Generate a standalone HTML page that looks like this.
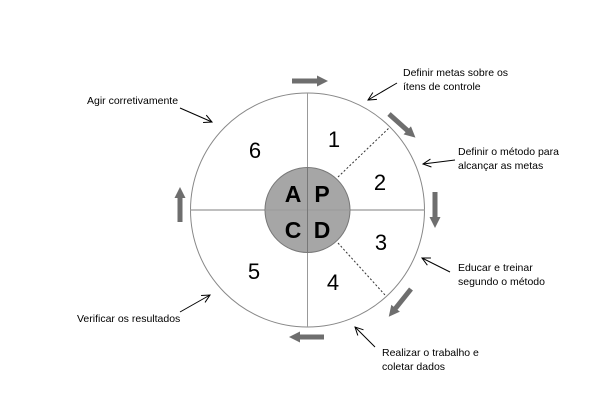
<!DOCTYPE html>
<html><head><meta charset="utf-8"><style>
html,body{margin:0;padding:0;background:#fff;}
svg{display:block;font-family:"Liberation Sans",sans-serif;}
</style></head><body>
<svg width="610" height="416" viewBox="0 0 610 416" xmlns="http://www.w3.org/2000/svg">
<defs>
<marker id="a" markerWidth="10" markerHeight="10" refX="9" refY="5" orient="auto" markerUnits="userSpaceOnUse">
<path d="M1,1 L9,5 L1,9" fill="none" stroke="#000" stroke-width="1"/></marker>
<marker id="g" markerWidth="12" markerHeight="12" refX="1" refY="6" orient="auto" markerUnits="userSpaceOnUse">
<path d="M0,0.5 L11,6 L0,11.5 Z" fill="#6e6e6e"/></marker>
</defs>
<circle cx="307.5" cy="210" r="117" fill="#fff" stroke="#888" stroke-width="1"/>
<line x1="190.5" y1="210" x2="424.5" y2="210" stroke="#aaa" stroke-width="1.5"/>
<line x1="307.5" y1="93" x2="307.5" y2="327" stroke="#999" stroke-width="1"/>
<line x1="338" y1="177" x2="390" y2="127" stroke="#333" stroke-width="1" stroke-dasharray="2,2"/>
<line x1="338" y1="243" x2="385" y2="295" stroke="#333" stroke-width="1" stroke-dasharray="2,2"/>
<circle cx="307.5" cy="210" r="42.5" fill="#a6a6a6" stroke="#777" stroke-width="1"/>
<line x1="265" y1="210" x2="350" y2="210" stroke="#999" stroke-width="1"/>
<line x1="307.5" y1="167.5" x2="307.5" y2="252.5" stroke="#777" stroke-width="1"/>
<g font-size="23" font-weight="bold" fill="#000" text-anchor="middle">
<text x="293" y="202">A</text><text x="322" y="202">P</text>
<text x="293" y="238">C</text><text x="322" y="238">D</text>
</g>
<g font-size="22" fill="#000" text-anchor="middle">
<text x="334" y="147">1</text><text x="380" y="190">2</text>
<text x="381" y="250">3</text><text x="333" y="290">4</text>
<text x="254" y="279">5</text><text x="255" y="158">6</text>
</g>
<g stroke="#6e6e6e" stroke-width="5" marker-end="url(#g)">
<line x1="292" y1="81" x2="318" y2="81"/>
<line x1="389" y1="114" x2="408" y2="131"/>
<line x1="435" y1="192" x2="435" y2="218"/>
<line x1="411" y1="289" x2="395" y2="309"/>
<line x1="324" y1="337" x2="299" y2="337"/>
<line x1="180" y1="222" x2="180" y2="197"/>
</g>
<g stroke="#000" stroke-width="1" marker-end="url(#a)">
<line x1="180" y1="108" x2="212" y2="122"/>
<line x1="180" y1="312" x2="210" y2="295"/>
<line x1="397" y1="83" x2="368" y2="100"/>
<line x1="455" y1="160" x2="423" y2="164"/>
<line x1="450" y1="272" x2="422" y2="258"/>
<line x1="375" y1="347" x2="355" y2="327"/>
</g>
<g font-size="10.5" fill="#000">
<text x="87" y="104">Agir corretivamente</text>
<text x="77" y="322">Verificar os resultados</text>
<text x="403" y="76">Definir metas sobre os</text>
<text x="403" y="90">ítens de controle</text>
<text x="458" y="155">Definir o método para</text>
<text x="458" y="169">alcançar as metas</text>
<text x="458" y="271">Educar e treinar</text>
<text x="458" y="285">segundo o método</text>
<text x="382" y="356">Realizar o trabalho e</text>
<text x="382" y="370">coletar dados</text>
</g>
</svg>
</body></html>
